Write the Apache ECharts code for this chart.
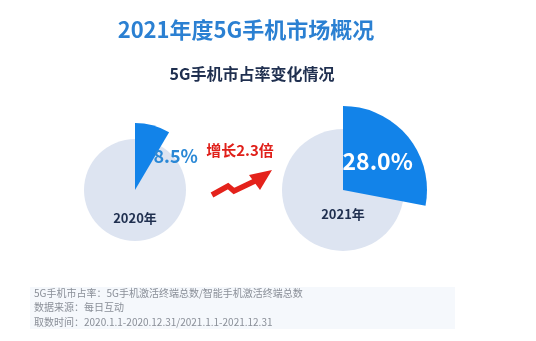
<!DOCTYPE html>
<html><head><meta charset="utf-8">
<script src="https://cdn.jsdelivr.net/npm/echarts@6/dist/echarts.min.js"></script>
<style>html,body{margin:0;padding:0;background:#fff;}#c{width:536px;height:341px;}</style>
</head><body><div id="c"></div>
<script>
const years = ['2020年', '2021年'];
const shares = [8.5, 28.0];
const growthText = '增长2.3倍';
const titleText = '2021年度5G手机市场概况';
const subtitleText = '5G手机市占率变化情况';
const notes = ['5G手机市占率：5G手机激活终端总数/智能手机激活终端总数', '数据来源：每日互动', '取数时间：2020.1.1-2020.12.31/2021.1.1-2021.12.31'];

const centers = [[135, 190], [343, 190]];
const baseR = [51, 61];
const wedgeR = [67, 84];
const font = '"Noto Sans CJK SC", "Noto Sans", sans-serif';

const series = [];
shares.forEach((v, i) => {
  series.push({
    type: 'pie', silent: true, center: centers[i], radius: [0, baseR[i]], z: 1,
    startAngle: 90, label: { show: false }, labelLine: { show: false },
    itemStyle: { color: '#dde4f1' }, data: [{ value: 100, name: years[i] }]
  });
  series.push({
    type: 'pie', silent: true, center: centers[i], radius: [0, wedgeR[i]], z: 2,
    startAngle: 90, clockwise: true, labelLine: { show: false },
    data: [
      { value: v, name: years[i] + '占比', itemStyle: { color: '#1283e9' },
        label: i === 0
          ? { show: true, position: 'inside', formatter: v.toFixed(1) + '%', color: '#2a88d6', fontSize: 18, fontWeight: 'bold', fontFamily: font, offset: [31, 1], textBorderWidth: 0, textShadowBlur: 0 }
          : { show: true, position: 'inside', formatter: v.toFixed(1) + '%', color: '#ffffff', fontSize: 23, fontWeight: 'bold', fontFamily: font, textBorderWidth: 0, textShadowBlur: 0 } },
      { value: 100 - v, name: '其他', itemStyle: { color: 'rgba(0,0,0,0)' }, label: { show: false } }
    ]
  });
});

const graphics = [];
years.forEach((y, i) => {
  graphics.push({ type: 'text', z: 100, x: centers[i][0], y: centers[i][1] + (i === 0 ? 28 : 24), style: { text: y, fill: '#1f2f4f', font: 'bold 13px ' + font, align: 'center', verticalAlign: 'middle' } });
});
graphics.push({ type: 'text', z: 100, x: 240, y: 150, style: { text: growthText, fill: '#e0201a', font: 'bold 15px ' + font, align: 'center', verticalAlign: 'middle' } });
graphics.push({ type: 'polyline', z: 100, shape: { points: [[212, 195], [228, 186], [234, 191], [257, 180]] }, style: { stroke: '#e4221b', lineWidth: 5.5, lineJoin: 'miter', fill: null } });
graphics.push({ type: 'polygon', z: 100, shape: { points: [[249, 175], [272, 170], [260, 190]] }, style: { fill: '#e4221b' } });
graphics.push({ type: 'rect', z: -10, shape: { x: 30, y: 287, width: 425, height: 42 }, style: { fill: '#f5f8fc' } });
notes.forEach((t, i) => {
  graphics.push({ type: 'text', z: 100, x: 34, y: 293 + i * 14.5, style: { text: t, fill: '#8a8f98', font: '10px ' + font, verticalAlign: 'middle' } });
});

const chart = echarts.init(document.getElementById('c'));
chart.setOption({
  backgroundColor: '#ffffff',
  animation: false,
  title: [
    { text: titleText, left: 241, top: 14, textAlign: 'center', textStyle: { fontSize: 22, fontWeight: 'bold', fontFamily: font, color: '#2b80d2' } },
    { text: subtitleText, left: 247, top: 61, textAlign: 'center', textStyle: { fontSize: 16, fontWeight: 'bold', fontFamily: font, color: '#1f2f4f' } }
  ],
  series: series,
  graphic: graphics
});
</script></body></html>
